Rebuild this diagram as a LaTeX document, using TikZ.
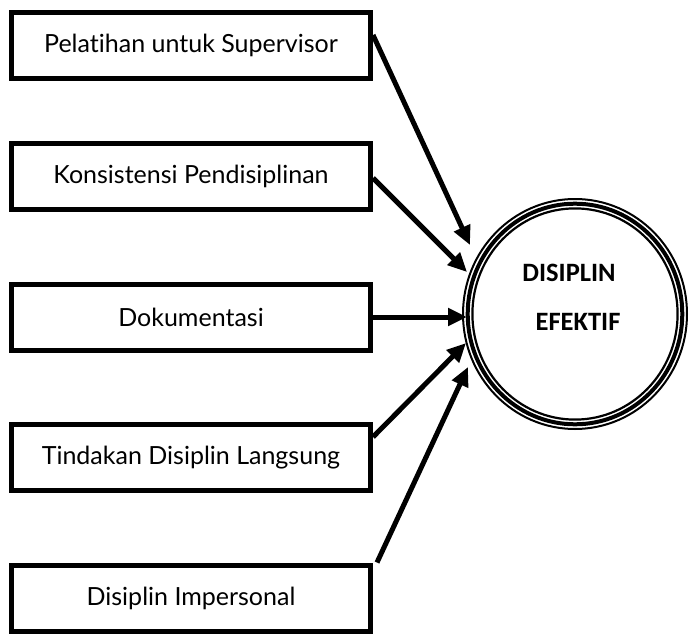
\documentclass[tikz,border=0pt]{standalone}
\usepackage{fontspec}
\setmainfont{Lato}[Ligatures=NoCommon]
\newfontfamily\calib{Carlito}
\usetikzlibrary{arrows.meta,shapes.geometric}
\begin{document}
\begin{tikzpicture}[x=1pt,y=-1pt,
  boxs/.style={draw,line width=5pt,minimum width=359pt,minimum height=66pt,inner sep=0pt,font=\fontsize{25}{28}\selectfont},
  arr/.style={line width=5pt,-{Triangle[length=19pt,width=17pt]}},
  ctext/.style={font=\calib\bfseries\fontsize{26.5}{30}\selectfont,inner sep=0pt}]
\useasboundingbox (0,0) rectangle (689,634);
% boxes
\node[boxs] (b1) at (191,45.5) {Pelatihan untuk Supervisor};
\node[boxs] (b2) at (191,176.5) {Konsistensi Pendisiplinan};
\node[boxs] (b3) at (191,317) {Dokumentasi};
\node[boxs] (b4) at (191,457.5) {Tindakan Disiplin Langsung};
\node[boxs] (b5) at (191,598) {Disiplin Impersonal};
% circle (thin-thick-thin)
\node[ellipse,draw,line width=2pt,minimum width=224pt,minimum height=230pt,inner sep=0pt] (c) at (575,314) {};
\draw[line width=4pt] (c.center) ellipse [x radius=107.3, y radius=110.3];
\draw[line width=2.2pt] (c.center) ellipse [x radius=102.6, y radius=105.6];
\node[ctext] (d1) at (569,273) {DISIPLIN};
\node[ctext] (d2) at (578,322) {EFEKTIF};
% arrow tips
\coordinate (t1) at (470,245);
\coordinate (t2) at (467,272);
\coordinate (t3) at (467,317);
\coordinate (t4) at (466,343);
\coordinate (t5) at (468,367);
% arrows
\draw[arr] ([yshift=10.5pt]b1.east) -- (t1);
\draw[arr] ([yshift=-1.5pt]b2.east) -- (t2);
\draw[arr] (b3.east) -- (t3);
\draw[arr] ([yshift=20.5pt]b4.east) -- (t4);
\draw[arr] ([xshift=4pt]b5.north east) -- (t5);
\end{tikzpicture}
\end{document}
